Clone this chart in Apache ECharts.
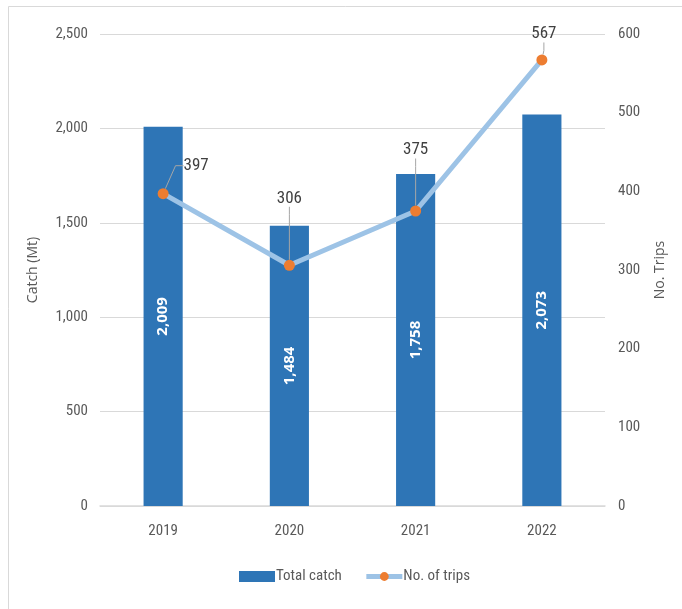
<!DOCTYPE html>
<html>
<head>
<meta charset="utf-8">
<script src="https://cdn.jsdelivr.net/npm/echarts@6/dist/echarts.min.js"></script>
<style>
  html, body { margin: 0; padding: 0; background: #ffffff; }
  #chart { width: 682px; height: 609px; }
</style>
</head>
<body>
<div id="chart"></div>
<script>
// Annual catch and number of fishing trips
const years = ['2019', '2020', '2021', '2022'];
const totalCatch = [2009, 1484, 1758, 2073];
const trips = [397, 306, 375, 567];
const catchTicks = [0, 500, 1000, 1500, 2000, 2500];
const tripTicks = [0, 100, 200, 300, 400, 500, 600];

// label shifts for the trips labels (px, relative to default 'top' spot)
const tripLabelShift = [
  { dx: 33, dy: -9 },
  { dx: 0, dy: -48 },
  { dx: 0, dy: -42 },
  { dx: 2, dy: -7 }
];

const numFont = '"Liberation Sans Narrow", "Roboto Condensed", "Liberation Sans", sans-serif';
const titleFont = '"Open Sans", "Noto Sans", sans-serif';
const grey = '#595959';

const fmt = v => Number(v).toLocaleString('en-US');

const chart = echarts.init(document.getElementById('chart'), null, { renderer: 'canvas' });
chart.setOption({
  animation: false,
  backgroundColor: '#ffffff',
  graphic: [{
    type: 'rect',
    shape: { x: 8.5, y: 6.5, width: 800, height: 800 },
    style: { fill: 'none', stroke: '#d9d9d9', lineWidth: 1 },
    silent: true
  }],
  grid: { left: 100, right: 77, top: 34, bottom: 103 },
  legend: {
    bottom: 20,
    left: 234,
    itemGap: 22,
    itemWidth: 36,
    itemHeight: 11,
    textStyle: { fontFamily: numFont, fontSize: 15, color: grey, padding: [0, 0, 0, -4] },
    data: [
      { name: 'Total catch', icon: 'rect' },
      { name: 'No. of trips', lineStyle: { width: 5 } }
    ]
  },
  xAxis: {
    type: 'category',
    data: years,
    axisLine: { show: true, lineStyle: { color: '#d9d9d9', width: 1.5 } },
    axisTick: { show: false },
    axisLabel: { fontFamily: numFont, fontSize: 15, color: grey, margin: 18 }
  },
  yAxis: [{
    type: 'value',
    min: catchTicks[0],
    max: catchTicks[catchTicks.length - 1],
    interval: 500,
    name: 'Catch (Mt)',
    nameLocation: 'middle',
    nameGap: 60,
    nameTextStyle: { fontFamily: titleFont, fontSize: 14, color: grey },
    axisLine: { show: false },
    axisTick: { show: false },
    axisLabel: { fontFamily: numFont, fontSize: 15, color: grey, margin: 12, formatter: fmt },
    splitLine: { lineStyle: { color: '#d9d9d9', width: 1 } }
  }, {
    type: 'value',
    min: tripTicks[0],
    max: tripTicks[tripTicks.length - 1],
    interval: 100,
    name: 'No. Trips',
    nameLocation: 'middle',
    nameGap: 48,
    nameRotate: 90,
    nameTextStyle: { fontFamily: titleFont, fontSize: 14, color: grey },
    axisLine: { show: false },
    axisTick: { show: false },
    axisLabel: { fontFamily: numFont, fontSize: 15, color: grey, margin: 13 },
    splitLine: { show: false }
  }],
  series: [{
    name: 'Total catch',
    type: 'bar',
    yAxisIndex: 0,
    data: totalCatch,
    barWidth: '31%',
    itemStyle: { color: '#2E75B6' },
    label: {
      show: true,
      position: 'inside',
      rotate: 90,
      formatter: p => fmt(p.value),
      fontFamily: titleFont,
      fontWeight: 'bold',
      fontSize: 15,
      color: '#ffffff'
    }
  }, {
    name: 'No. of trips',
    type: 'line',
    yAxisIndex: 1,
    data: trips,
    symbol: 'circle',
    symbolSize: 11,
    lineStyle: { color: '#9DC3E6', width: 5 },
    itemStyle: { color: '#ED7D31' },
    z: 5,
    label: {
      show: true,
      position: 'top',
      fontFamily: numFont,
      fontSize: 17,
      color: '#404040'
    },
    labelLine: {
      show: true,
      length2: 8,
      lineStyle: { color: '#a6a6a6', width: 1 }
    },
    labelLayout: p => tripLabelShift[p.dataIndex]
  }]
});
</script>
</body>
</html>
